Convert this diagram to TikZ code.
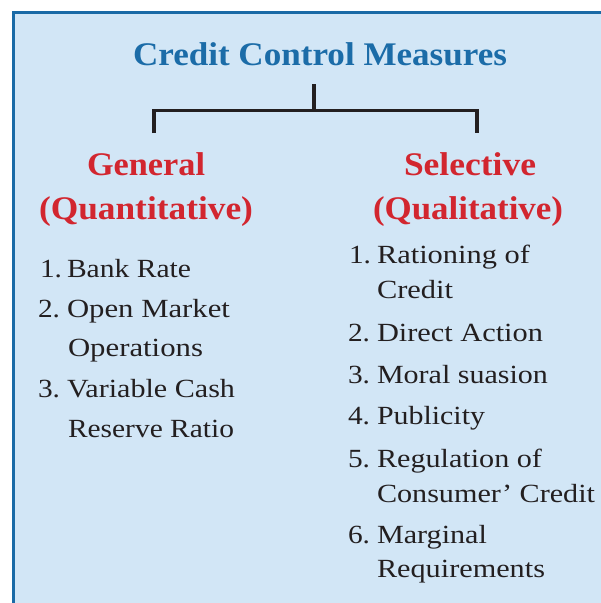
\documentclass[tikz,border=0pt]{standalone}
\usepackage{fontspec}
\setmainfont{Liberation Serif}
\usepackage{graphicx}
\definecolor{bgblue}{RGB}{210,230,246}
\definecolor{frameblue}{RGB}{26,106,166}
\definecolor{titleblue}{RGB}{27,108,168}
\definecolor{headred}{RGB}{210,38,47}
\definecolor{textdark}{RGB}{35,31,32}
\newcommand{\fw}[2]{\resizebox{#1pt}{\height}{#2}}
\newcommand{\nsc}[1]{\scalebox{1.12}[1]{#1}}
\begin{document}
\begin{tikzpicture}[x=1pt,y=-1pt,
  base/.style={anchor=base west, inner sep=0pt, outer sep=0pt},
  titletext/.style={base, text=titleblue, font=\bfseries\fontsize{33}{40}\selectfont},
  headtext/.style={base, text=headred, font=\bfseries\fontsize{33}{40}\selectfont},
  itemtext/.style={base, text=textdark, font=\fontsize{26.2}{30}\selectfont},
  bracket/.style={draw=textdark, line width=3.6pt, line cap=butt, line join=miter}]
\useasboundingbox (0,0) rectangle (601,603);
\fill[bgblue] (13,12) rectangle (601,603);
\draw[frameblue, line width=2.5pt] (13.5,603) -- (13.5,12.5) -- (601,12.5);

% title
\node[titletext] (title) at (133,65) {\fw{374}{Credit Control Measures}};

% bracket
\coordinate (stemtop) at (314,84);
\coordinate (stembot) at (314,110.3);
\coordinate (lefttop) at (153.8,110.3);
\coordinate (leftbot) at (153.8,133);
\coordinate (righttop) at (477.2,110.3);
\coordinate (rightbot) at (477.2,133);
\draw[bracket] (leftbot) -- (lefttop) -- (righttop) -- (rightbot);
\draw[bracket] (stemtop) -- (stembot);

% headings
\node[headtext] (gen) at (87,175) {\fw{118}{General}};
\node[headtext] (quant) at (39,219) {\fw{214}{(Quantitative)}};
\node[headtext] (sel) at (404,175) {\fw{132}{Selective}};
\node[headtext] (qual) at (373,219) {\fw{190}{(Qualitative)}};

% left list
\node[itemtext] (ln1) at (40,277) {\nsc{1.}};
\node[itemtext] (lt1) at (67,277) {\fw{124}{Bank Rate}};
\node[itemtext] (ln2) at (38,317) {\nsc{2.}};
\node[itemtext] (lt2) at (67,317) {\fw{163}{Open Market}};
\node[itemtext] (lt2b) at (68,356) {\fw{135}{Operations}};
\node[itemtext] (ln3) at (38,397) {\nsc{3.}};
\node[itemtext] (lt3) at (67,397) {\fw{168}{Variable Cash}};
\node[itemtext] (lt3b) at (68,437) {\fw{166}{Reserve Ratio}};

% right list
\node[itemtext] (rn1) at (349,263) {\nsc{1.}};
\node[itemtext] (rt1) at (377,263) {\fw{153}{Rationing of}};
\node[itemtext] (rt1b) at (377,298) {\fw{76}{Credit}};
\node[itemtext] (rn2) at (348,341) {\nsc{2.}};
\node[itemtext] (rt2) at (377,341) {\fw{166}{Direct Action}};
\node[itemtext] (rn3) at (348,383) {\nsc{3.}};
\node[itemtext] (rt3) at (377,383) {\fw{171}{Moral suasion}};
\node[itemtext] (rn4) at (348,424) {\nsc{4.}};
\node[itemtext] (rt4) at (377,424) {\fw{108}{Publicity}};
\node[itemtext] (rn5) at (348,467) {\nsc{5.}};
\node[itemtext] (rt5) at (377,467) {\fw{165}{Regulation of}};
\node[itemtext] (rt5b) at (377,502) {\fw{218}{Consumer’ Credit}};
\node[itemtext] (rn6) at (348,543) {\nsc{6.}};
\node[itemtext] (rt6) at (377,543) {\fw{110}{Marginal}};
\node[itemtext] (rt6b) at (377,577) {\fw{168}{Requirements}};
\end{tikzpicture}
\end{document}
